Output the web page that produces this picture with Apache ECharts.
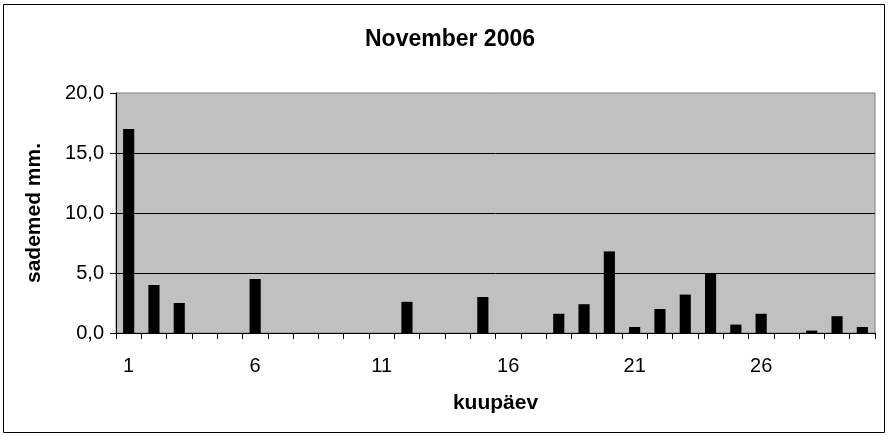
<!DOCTYPE html>
<html><head><meta charset="utf-8">
<script src="https://cdn.jsdelivr.net/npm/echarts@6/dist/echarts.min.js"></script>
<style>html,body{margin:0;padding:0;background:#fff}#c{width:890px;height:438px}</style>
</head><body><div id="c"></div>
<script>
var days = ['1','2','3','4','5','6','7','8','9','10','11','12','13','14','15','16','17','18','19','20','21','22','23','24','25','26','27','28','29','30'];
var precipitation = [17.0,4.0,2.5,0,0,4.5,0,0,0,0,0,2.6,0,0,3.0,0,0,1.6,2.4,6.8,0.5,2.0,3.2,5.0,0.7,1.6,0,0.2,1.4,0.5];
var yTicks = [0,5,10,15,20];
var titleText = 'November 2006';
var xName = 'kuupäev';
var yName = 'sademed mm.';

var chart = echarts.init(document.getElementById('c'), null, {renderer:'canvas'});
var font = 'Liberation Sans, Arial, sans-serif';
chart.setOption({
  animation:false,
  backgroundColor:'#fff',
  graphic:[{type:'rect',shape:{x:3.5,y:4.5,width:881,height:428},style:{fill:'none',stroke:'#000',lineWidth:1},silent:true}],
  title:{text:titleText,left:445,top:23,textAlign:'center',textStyle:{fontFamily:font,fontSize:23,fontWeight:'bold',color:'#000'}},
  grid:{left:116,right:15,top:93,bottom:105,show:true,backgroundColor:'#C0C0C0',borderColor:'#808080',borderWidth:1},
  xAxis:{type:'category',data:days,
    name:xName,nameLocation:'middle',nameGap:60,
    nameTextStyle:{fontFamily:font,fontSize:21,fontWeight:'bold',color:'#000'},
    axisLine:{lineStyle:{color:'#000',width:1}},
    axisTick:{show:true,interval:0,length:6,lineStyle:{color:'#000'}},
    axisLabel:{interval:4,margin:23,fontFamily:font,fontSize:20,color:'#000'},
    splitLine:{show:false}},
  yAxis:{type:'value',min:yTicks[0],max:yTicks[yTicks.length-1],interval:5,
    name:yName,nameLocation:'middle',nameGap:71,
    nameTextStyle:{fontFamily:font,fontSize:21,fontWeight:'bold',color:'#000'},
    axisLine:{show:true,lineStyle:{color:'#000',width:1}},
    axisTick:{show:true,length:6,lineStyle:{color:'#000'}},
    axisLabel:{margin:12,fontFamily:font,fontSize:20,color:'#000',formatter:function(v){return v.toFixed(1).replace('.',',');}},
    splitLine:{show:true,showMaxLine:false,lineStyle:{color:'#000',width:1}}},
  series:[{type:'bar',data:precipitation,barWidth:'44%',itemStyle:{color:'#000'}}]
});
</script></body></html>
